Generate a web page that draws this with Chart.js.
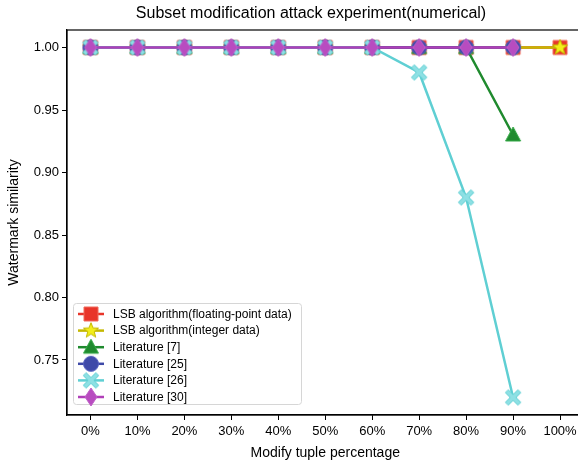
<!DOCTYPE html>
<html>
<head>
<meta charset="utf-8">
<script src="https://cdn.jsdelivr.net/npm/chart.js@4/dist/chart.umd.min.js"></script>
<style>
html,body{margin:0;padding:0;background:#fff;overflow:hidden;}
canvas{display:block;}
</style>
</head>
<body>
<canvas id="c" width="594" height="462"></canvas>
<script>
// ---- data ----
const categories = ["0%","10%","20%","30%","40%","50%","60%","70%","80%","90%","100%"];
const seriesNames = ["LSB algorithm(floating-point data)","LSB algorithm(integer data)","Literature [7]","Literature [25]","Literature [26]","Literature [30]"];
const lsbFloat   = [1.00,1.00,1.00,1.00,1.00,1.00,1.00,1.00,1.00,1.00,1.00];
const lsbInteger = [1.00,1.00,1.00,1.00,1.00,1.00,1.00,1.00,1.00,1.00,1.00];
const lit7       = [1.00,1.00,1.00,1.00,1.00,1.00,1.00,1.00,1.00,0.93];
const lit25      = [1.00,1.00,1.00,1.00,1.00,1.00,1.00,1.00,1.00,1.00];
const lit26      = [1.00,1.00,1.00,1.00,1.00,1.00,1.00,0.98,0.88,0.72];
const lit30      = [1.00,1.00,1.00,1.00,1.00,1.00,1.00,1.00,1.00,1.00];
const yTickValues = [0.75,0.80,0.85,0.90,0.95,1.00];

const FONT = "'Liberation Sans', Arial, sans-serif";

// ---- marker images ----
function makeMarker(kind, fill, edge){
  const s = 22, c = document.createElement('canvas');
  c.width = s; c.height = s;
  const g = c.getContext('2d');
  g.translate(s/2, s/2);
  g.fillStyle = fill; g.strokeStyle = edge; g.lineWidth = 1;
  g.beginPath();
  if (kind === 'square'){ g.rect(-7,-7,14,14); }
  else if (kind === 'circle'){ g.arc(0,0,7.5,0,Math.PI*2); }
  else if (kind === 'triangle'){ g.moveTo(0,-8); g.lineTo(7.5,6); g.lineTo(-7.5,6); g.closePath(); }
  else if (kind === 'diamond'){ g.moveTo(0,-9); g.lineTo(6,0); g.lineTo(0,9); g.lineTo(-6,0); g.closePath(); }
  else if (kind === 'star'){
    for (let i=0;i<10;i++){
      const r = i%2===0 ? 8 : 3.4;
      const a = -Math.PI/2 + i*Math.PI/5;
      const x = r*Math.cos(a), y = r*Math.sin(a);
      if (i===0) g.moveTo(x,y); else g.lineTo(x,y);
    }
    g.closePath();
  }
  else if (kind === 'x'){
    const w = 2.6, L = 7;
    const pts = [[0,-w],[L-w,-L],[L,-L+w],[w,0],[L,L-w],[L-w,L],[0,w],[-L+w,L],[-L,L-w],[-w,0],[-L,-L+w],[-L+w,-L]];
    pts.forEach((p,i)=>{ const x=p[0]*1.1,y=p[1]*1.1; if(i===0) g.moveTo(x,y); else g.lineTo(x,y); });
    g.closePath();
  }
  g.fill(); g.stroke();
  return c;
}

const colors = {
  red:     {line:'#e8352a', fill:'#e8352a', edge:'#f06a5a'},
  yellow:  {line:'#c4b800', fill:'#f2ee1a', edge:'#c4b800'},
  green:   {line:'#1f8a2e', fill:'#1f8a2e', edge:'#33a844'},
  blue:    {line:'#3f4aa8', fill:'#3f4aa8', edge:'#5560c0'},
  cyan:    {line:'#5fcfd3', fill:'#8ee0e4', edge:'#5fcfd3'},
  magenta: {line:'#b03fb8', fill:'#b84cc0', edge:'#c060c8'}
};

const markers = [
  makeMarker('square', colors.red.fill, colors.red.edge),
  makeMarker('star', colors.yellow.fill, colors.yellow.edge),
  makeMarker('triangle', colors.green.fill, colors.green.edge),
  makeMarker('circle', colors.blue.fill, colors.blue.edge),
  makeMarker('x', colors.cyan.fill, colors.cyan.edge),
  makeMarker('diamond', colors.magenta.fill, colors.magenta.edge)
];
const seriesData = [lsbFloat, lsbInteger, lit7, lit25, lit26, lit30];
const lineColors = [colors.red.line, colors.yellow.line, colors.green.line, colors.blue.line, colors.cyan.line, colors.magenta.line];

const datasets = seriesData.map((arr, i) => ({
  label: seriesNames[i],
  data: arr.map((v, k) => ({x: k, y: v})),
  borderColor: lineColors[i],
  backgroundColor: lineColors[i],
  borderWidth: 2.5,
  pointStyle: markers[i],
  pointRadius: 8,
  pointHoverRadius: 8,
  tension: 0,
  order: seriesData.length - 1 - i,
  clip: false
}));

// frame + title + legend plugin
const decor = {
  id: 'decor',
  afterDraw(chart){
    const ctx = chart.ctx, a = chart.chartArea;
    ctx.save();
    ctx.strokeStyle = '#000'; ctx.lineWidth = 1.2;
    ctx.strokeRect(a.left, a.top, a.right - a.left, a.bottom - a.top);
    // title
    ctx.fillStyle = '#000';
    ctx.font = '16px ' + FONT;
    ctx.textAlign = 'center'; ctx.textBaseline = 'middle';
    ctx.fillText('Subset modification attack experiment(numerical)', 311, 14);
    // legend
    const lx = 73, ly = 303, lw = 228, lh = 101;
    ctx.fillStyle = 'rgba(255,255,255,0.85)';
    ctx.strokeStyle = '#d6d6d6'; ctx.lineWidth = 1;
    ctx.beginPath();
    if (ctx.roundRect) ctx.roundRect(lx+0.5, ly+0.5, lw, lh, 3); else ctx.rect(lx+0.5, ly+0.5, lw, lh);
    ctx.fill(); ctx.stroke();
    ctx.font = '12px ' + FONT;
    ctx.textAlign = 'left'; ctx.textBaseline = 'middle';
    seriesNames.forEach((name, i) => {
      const y = 314 + i * 16.6;
      ctx.strokeStyle = lineColors[i]; ctx.lineWidth = 2.5;
      ctx.beginPath(); ctx.moveTo(78, y); ctx.lineTo(104, y); ctx.stroke();
      Chart.helpers.drawPoint(ctx, {pointStyle: markers[i], radius: 8, rotation: 0}, 91, y);
      ctx.fillStyle = '#000';
      ctx.fillText(name, 113, y + 0.5);
    });
    ctx.restore();
  }
};

new Chart(document.getElementById('c'), {
  type: 'line',
  data: { datasets },
  options: {
    responsive: false,
    animation: false,
    events: [],
    layout: { padding: { top: 30, left: 0, right: 0, bottom: 0 } },
    plugins: { legend: { display: false }, tooltip: { enabled: false }, title: { display: false } },
    scales: {
      x: {
        type: 'linear', min: -0.5, max: 10.5,
        border: { display: true, color: '#000', width: 1.2 },
        grid: { display: true, drawOnChartArea: false, drawTicks: true, tickLength: 5, color: '#000', lineWidth: 1 },
        afterBuildTicks(scale){ scale.ticks = categories.map((c, k) => ({value: k})); },
        ticks: { autoSkip: false, maxRotation: 0, color: '#000', font: { family: FONT, size: 13 }, padding: 4,
                 callback: (v) => categories[v] },
        title: { display: true, text: 'Modify tuple percentage', color: '#000', font: { family: FONT, size: 14 }, padding: { top: 0, bottom: 0 } },
        afterFit(scale){ scale.height = 47; }
      },
      y: {
        type: 'linear', min: 0.706, max: 1.014,
        border: { display: true, color: '#000', width: 1.2 },
        grid: { display: true, drawOnChartArea: false, drawTicks: true, tickLength: 5, color: '#000', lineWidth: 1 },
        afterBuildTicks(scale){ scale.ticks = yTickValues.map(v => ({value: v})); },
        ticks: { color: '#000', font: { family: FONT, size: 13 }, padding: 3,
                 callback: (v) => Number(v).toFixed(2) },
        title: { display: true, text: 'Watermark similarity', color: '#000', font: { family: FONT, size: 14 }, padding: { top: 6, bottom: 0 } },
        afterFit(scale){ scale.width = 67; }
      }
    }
  },
  plugins: [decor]
});
</script>
</body>
</html>
